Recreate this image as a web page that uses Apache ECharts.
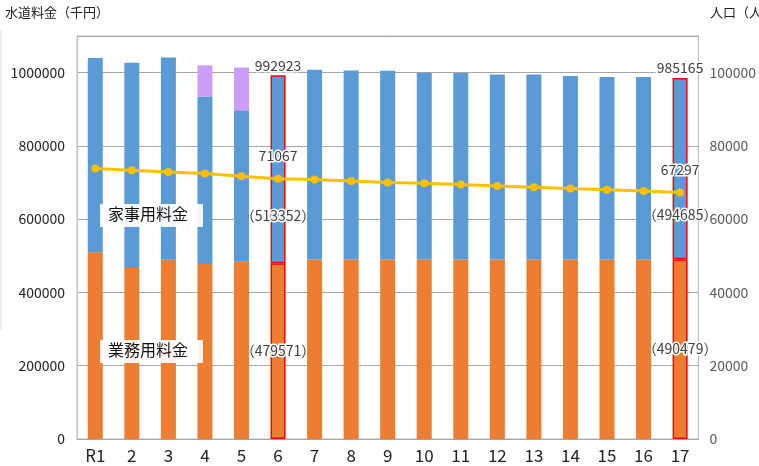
<!DOCTYPE html>
<html>
<head>
<meta charset="utf-8">
<script src="https://cdn.jsdelivr.net/npm/echarts@6/dist/echarts.min.js"></script>
<style>html,body{margin:0;padding:0;background:#fff}#c{width:759px;height:466px}</style>
</head>
<body>
<div id="c"></div>
<script>
var categories = ['R1','2','3','4','5','6','7','8','9','10','11','12','13','14','15','16','17'];
var gyomu = [510000,467000,489000,478000,484000,479571,490000,490000,490000,490000,490000,490000,490000,490000,490000,490000,490479];
var kaji = [530000,560000,552000,457000,413000,513352,518000,516000,515000,510000,509000,505000,505000,501000,498000,498000,494685];
var other = [0,0,0,85000,117000,0,0,0,0,0,0,0,0,0,0,0,0];
var totals = [1040000,1027000,1041000,1020000,1014000,992923,1008000,1006000,1005000,1000000,999000,995000,995000,991000,988000,988000,985165];
var population = [73820,73360,72900,72450,71720,71067,70800,70440,70000,69810,69450,69080,68720,68360,68000,67720,67297];
var leftTicks = [0,200000,400000,600000,800000,1000000];
var rightTicks = [0,20000,40000,60000,80000,100000];
var highlight = [5,16];

var FONT = '"Noto Sans CJK JP", "Noto Sans", sans-serif';
var chart = echarts.init(document.getElementById('c'));

function barData(arr) {
  return arr.map(function (v, i) {
    var d = { value: v };
    if (highlight.indexOf(i) >= 0) {
      d.itemStyle = { borderColor: '#FF0000', borderWidth: 1.5 };
    }
    return d;
  });
}
function hl(i) { return highlight.indexOf(i) >= 0; }
var lbl = { color: '#404040', fontSize: 14, fontFamily: FONT, textBorderColor: '#fff', textBorderWidth: 3 };

chart.setOption({
  animation: false,
  textStyle: { fontFamily: FONT },
  grid: { left: 77, right: 54, top: 36, bottom: 27, show: true, borderColor: '#BFBFBF', borderWidth: 1 },
  xAxis: {
    type: 'category', data: categories,
    axisLine: { lineStyle: { color: '#A6A6A6' } },
    axisTick: { show: false },
    axisLabel: { color: '#222', fontSize: 17, fontFamily: FONT, margin: 8 }
  },
  yAxis: [{
    type: 'value', min: 0, max: 1100000, interval: 200000,
    axisLine: { show: true, lineStyle: { color: '#BFBFBF' } },
    axisTick: { show: false },
    axisLabel: { color: '#222', fontSize: 14, fontFamily: FONT, margin: 12, showMaxLabel: false,
      formatter: function (v) { return leftTicks.indexOf(v) >= 0 ? String(v) : ''; } },
    splitLine: { lineStyle: { color: '#A6A6A6' } }
  }, {
    type: 'value', min: 0, max: 110000, interval: 20000,
    axisLine: { show: true, lineStyle: { color: '#BFBFBF' } },
    axisTick: { show: false },
    axisLabel: { color: '#595959', fontSize: 14, fontFamily: FONT, margin: 11, showMaxLabel: false,
      formatter: function (v) { return rightTicks.indexOf(v) >= 0 ? String(v) : ''; } },
    splitLine: { show: false }
  }],
  series: [{
    name: '業務用料金', type: 'bar', stack: 'fee', barWidth: 15,
    itemStyle: { color: '#ED7D31' },
    data: barData(gyomu),
    label: Object.assign({ show: true, position: 'inside',
      formatter: function (p) { return hl(p.dataIndex) ? '（' + p.value + '）' : ''; } }, lbl)
  }, {
    name: '家事用料金', type: 'bar', stack: 'fee', barWidth: 15,
    itemStyle: { color: '#5B9BD5' },
    data: barData(kaji),
    label: Object.assign({ show: true, position: 'inside', offset: [0, 46],
      formatter: function (p) { return hl(p.dataIndex) ? '（' + p.value + '）' : ''; } }, lbl)
  }, {
    name: 'その他', type: 'bar', stack: 'fee', barWidth: 15,
    itemStyle: { color: '#CC9EFA' },
    data: other.map(function (v) { return v === 0 ? null : v; })
  }, {
    name: '合計', type: 'bar', barGap: '-100%', barWidth: 15,
    itemStyle: { color: 'transparent' }, silent: true, z: 1,
    data: totals.map(function (v, i) { return hl(i) ? v : null; }),
    label: Object.assign({ show: true, position: 'top', distance: 3,
      formatter: function (p) { return p.value; } }, lbl)
  }, {
    name: '人口', type: 'line', yAxisIndex: 1, z: 5,
    data: population,
    lineStyle: { color: '#FFC000', width: 3 },
    itemStyle: { color: '#FFC000' },
    symbol: 'circle', symbolSize: 8,
    label: Object.assign({ show: true, position: 'top', distance: 12,
      formatter: function (p) { return hl(p.dataIndex) ? p.value : ''; } }, lbl)
  }],
  graphic: [
    { type: 'text', left: 5, top: 6, z: 100, style: { text: '水道料金（千円）', fill: '#222', font: '13px ' + FONT } },
    { type: 'text', left: 710, top: 6, z: 100, style: { text: '人口（人）', fill: '#222', font: '13px ' + FONT } },
    { type: 'line', z: 100, shape: { x1: 1, y1: 30, x2: 1, y2: 330 }, style: { stroke: '#D9D9D9', lineWidth: 1 } },
    { type: 'group', left: 100, top: 204, z: 100, children: [
      { type: 'rect', z: 100, shape: { x: 0, y: 0, width: 103, height: 23 }, style: { fill: 'rgba(255,255,255,0.92)' } },
      { type: 'text', z: 101, x: 8, y: 2, style: { text: '家事用料金', fill: '#111', font: '16px ' + FONT } }
    ]},
    { type: 'group', left: 100, top: 340, z: 100, children: [
      { type: 'rect', z: 100, shape: { x: 0, y: 0, width: 103, height: 23 }, style: { fill: 'rgba(255,255,255,0.92)' } },
      { type: 'text', z: 101, x: 8, y: 2, style: { text: '業務用料金', fill: '#111', font: '16px ' + FONT } }
    ]}
  ]
});
</script>
</body>
</html>
